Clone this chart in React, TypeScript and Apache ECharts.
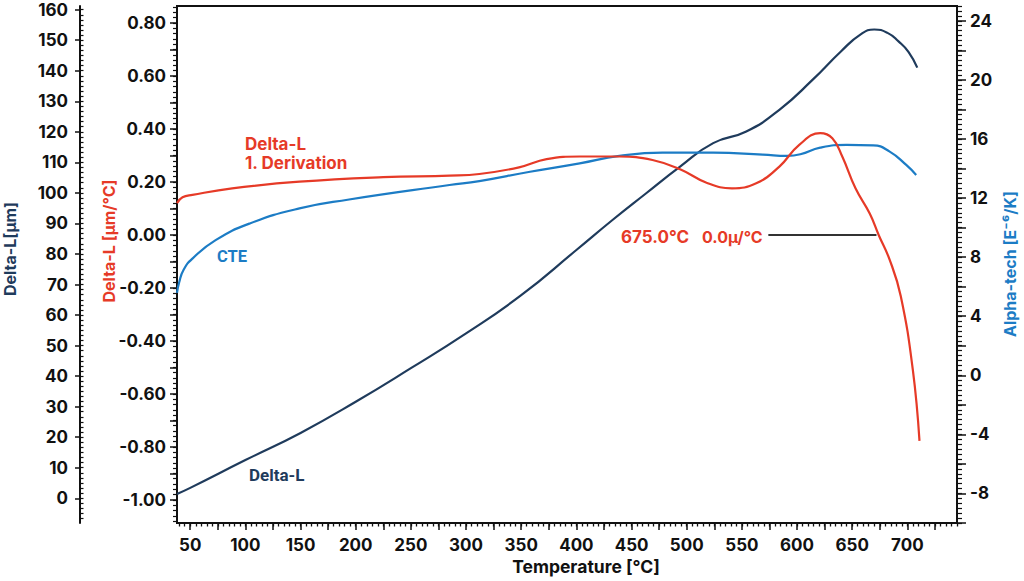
import React, { useEffect, useRef } from "react";
import * as echarts from "echarts";

// ---------- data ----------
// Temperature [°C]
const X_MIN = 38;
const X_MAX = 745;
const tempTickLabels = [50, 100, 150, 200, 250, 300, 350, 400, 450, 500, 550, 600, 650, 700];

// Delta-L [µm]
const deltaLTemp = [38, 50, 100, 150, 200, 250, 300, 350, 400, 433, 463, 494, 524, 554, 584, 614, 640, 658, 670, 682, 692, 701, 709];
const deltaLValues = [1.4, 3.4, 12.5, 21.4, 31.6, 42.6, 54, 66.5, 81.3, 91.2, 99.8, 108.6, 116.3, 120.1, 127.2, 137, 146.4, 152.0, 153.5, 152.4, 149.6, 146.2, 141];

// Delta-L 1. Derivation [µm/°C]
const derivTemp = [38, 43, 52, 88, 149, 225, 285, 312, 348, 373, 403, 439, 469, 494, 518, 541, 563, 584, 602, 621, 632, 641, 653, 666, 674, 684, 694, 705, 711];
const derivValues = [0.12, 0.142, 0.151, 0.176, 0.201, 0.218, 0.224, 0.23, 0.255, 0.286, 0.296, 0.296, 0.283, 0.248, 0.197, 0.176, 0.195, 0.258, 0.34, 0.384, 0.365, 0.296, 0.176, 0.08, 0.0, -0.094, -0.23, -0.51, -0.777];

// CTE Alpha-tech [E-6/K]
const cteTemp = [38, 40, 44, 52, 73, 104, 149, 194, 285, 312, 358, 403, 439, 478, 524, 569, 591, 603, 621, 645, 669, 684, 699, 708];
const cteValues = [5.58, 6.3, 7.15, 7.9, 9.15, 10.28, 11.3, 11.9, 12.88, 13.15, 13.78, 14.35, 14.85, 15.07, 15.07, 14.94, 14.85, 14.96, 15.41, 15.6, 15.57, 15.14, 14.24, 13.56];

// axis tick labels
const deltaLTickLabels = [0, 10, 20, 30, 40, 50, 60, 70, 80, 90, 100, 110, 120, 130, 140, 150, 160];
const derivTickLabels = [-1.0, -0.8, -0.6, -0.4, -0.2, 0.0, 0.2, 0.4, 0.6, 0.8];
const cteTickLabels = [-8, -4, 0, 4, 8, 12, 16, 20, 24];

// annotation readout
const readoutTemp = 675.0;
const readoutDeriv = 0.0;

// ---------- helpers ----------
function steps(start: number, end: number, step: number): number[] {
  const out: number[] = [];
  const n = Math.round((end - start) / step);
  for (let i = 0; i <= n; i++) out.push(Math.round((start + i * step) * 10000) / 10000);
  return out;
}
function pairs(xs: number[], ys: number[]): number[][] {
  return xs.map((x, i) => [x, ys[i]]);
}

const NAVY = "#1f3b5c";
const RED = "#e63a27";
const BLUE = "#1c7cc5";
const INK = "#111111";
const FONT = "Inter, 'Noto Sans', sans-serif";
const ANNO_FONT = "Roboto, 'Noto Sans', sans-serif";

const labelStyle = { color: INK, fontFamily: FONT, fontWeight: 700 as const, fontSize: 17 };

export default function App() {
  const ref = useRef<HTMLDivElement>(null);

  useEffect(() => {
    document.body.style.margin = "0";
    if (!ref.current) return;
    const chart = echarts.init(ref.current, undefined, { renderer: "svg" });

    const DL_MIN = -8.1, DL_MAX = 161.2;
    const DV_MIN = -1.087, DV_MAX = 0.864;
    const CT_MIN = -10, CT_MAX = 25;

    const noSplit = { show: false };

    const option: any = {
      animation: false,
      backgroundColor: "#ffffff",
      grid: {
        left: 177,
        right: 67,
        top: 6,
        bottom: 58,
        show: true,
        borderColor: INK,
        borderWidth: 2,
        containLabel: false,
      },
      xAxis: [
        {
          type: "value",
          min: X_MIN,
          max: X_MAX,
          position: "bottom",
          axisLine: { show: true, onZero: false, lineStyle: { color: INK, width: 2 } },
          axisTick: { show: true, customValues: steps(40, 745, 5), length: 3.5, lineStyle: { color: INK, width: 1.3 } },
          axisLabel: { show: false },
          splitLine: noSplit,
        },
        {
          type: "value",
          min: X_MIN,
          max: X_MAX,
          position: "bottom",
          axisLine: { show: false, onZero: false },
          axisTick: { show: true, customValues: steps(50, 725, 25), length: 7, lineStyle: { color: INK, width: 1.5 } },
          axisLabel: { show: true, customValues: tempTickLabels, margin: 13, ...labelStyle },
          splitLine: noSplit,
        },
      ],
      yAxis: [
        // 0: Delta-L [µm] major
        {
          type: "value",
          min: DL_MIN,
          max: DL_MAX,
          position: "left",
          offset: 97,
          axisLine: { show: true, onZero: false, lineStyle: { color: INK, width: 2 } },
          axisTick: { show: true, customValues: deltaLTickLabels, length: 5, lineStyle: { color: INK, width: 1.5 } },
          axisLabel: { show: true, customValues: deltaLTickLabels, margin: 12, ...labelStyle },
          splitLine: noSplit,
        },
        // 1: Delta-L [µm] minor
        {
          type: "value",
          min: DL_MIN,
          max: DL_MAX,
          position: "left",
          offset: 97,
          axisLine: { show: false, onZero: false },
          axisTick: { show: true, inside: true, customValues: steps(-20 / 3, 160, 10 / 6), length: 3.5, lineStyle: { color: INK, width: 1.2 } },
          axisLabel: { show: false },
          splitLine: noSplit,
        },
        // 2: derivation [µm/°C] major
        {
          type: "value",
          min: DV_MIN,
          max: DV_MAX,
          position: "left",
          offset: 0,
          axisLine: { show: true, onZero: false, lineStyle: { color: INK, width: 2 } },
          axisTick: { show: true, customValues: steps(-1.0, 0.8, 0.1), length: 7, lineStyle: { color: INK, width: 1.5 } },
          axisLabel: {
            show: true,
            customValues: derivTickLabels,
            margin: 11,
            formatter: (v: number) => v.toFixed(2),
            ...labelStyle,
          },
          splitLine: noSplit,
        },
        // 3: derivation minor
        {
          type: "value",
          min: DV_MIN,
          max: DV_MAX,
          position: "left",
          offset: 0,
          axisLine: { show: false, onZero: false },
          axisTick: { show: true, customValues: steps(-1.08, 0.86, 0.02), length: 4, lineStyle: { color: INK, width: 1.2 } },
          axisLabel: { show: false },
          splitLine: noSplit,
        },
        // 4: CTE major
        {
          type: "value",
          min: CT_MIN,
          max: CT_MAX,
          position: "right",
          offset: 0,
          axisLine: { show: true, onZero: false, lineStyle: { color: INK, width: 2 } },
          axisTick: { show: true, customValues: steps(-10, 24, 2), length: 9, lineStyle: { color: INK, width: 1.5 } },
          axisLabel: { show: true, customValues: cteTickLabels, margin: 13, ...labelStyle },
          splitLine: noSplit,
        },
        // 5: CTE minor
        {
          type: "value",
          min: CT_MIN,
          max: CT_MAX,
          position: "right",
          offset: 0,
          axisLine: { show: false, onZero: false },
          axisTick: { show: true, customValues: steps(-10, 25, 1 / 3), length: 5, lineStyle: { color: INK, width: 1.2 } },
          axisLabel: { show: false },
          splitLine: noSplit,
        },
      ],
      series: [
        {
          name: "Delta-L",
          type: "line",
          xAxisIndex: 0,
          yAxisIndex: 0,
          data: pairs(deltaLTemp, deltaLValues),
          showSymbol: false,
          smooth: 0.5,
          lineStyle: { color: NAVY, width: 2.2 },
          z: 3,
        },
        {
          name: "CTE",
          type: "line",
          xAxisIndex: 0,
          yAxisIndex: 4,
          data: pairs(cteTemp, cteValues),
          showSymbol: false,
          smooth: 0.5,
          lineStyle: { color: BLUE, width: 2.2 },
          z: 3,
        },
        {
          name: "Delta-L 1. Derivation",
          type: "line",
          xAxisIndex: 0,
          yAxisIndex: 2,
          data: pairs(derivTemp, derivValues),
          showSymbol: false,
          smooth: 0.45,
          lineStyle: { color: RED, width: 2.2 },
          z: 4,
          markLine: {
            silent: true,
            symbol: ["none", "none"],
            label: { show: false },
            lineStyle: { color: "#333333", width: 2, type: "solid" },
            data: [[{ coord: [574, readoutDeriv] }, { coord: [672, readoutDeriv] }]],
          },
        },
      ],
      graphic: [
        {
          type: "text",
          x: 10,
          y: 249,
          rotation: Math.PI / 2,
          style: { text: "Delta-L[µm]", fill: NAVY, fontFamily: FONT, fontWeight: 700, fontSize: 16, textAlign: "center", textVerticalAlign: "middle" },
        },
        {
          type: "text",
          x: 109,
          y: 241,
          rotation: Math.PI / 2,
          style: { text: "Delta-L [µm/°C]", fill: RED, fontFamily: FONT, fontWeight: 700, fontSize: 16, textAlign: "center", textVerticalAlign: "middle" },
        },
        {
          type: "text",
          x: 1010,
          y: 264,
          rotation: Math.PI / 2,
          style: { text: "Alpha-tech [E⁻⁶/K]", fill: BLUE, fontFamily: FONT, fontWeight: 700, fontSize: 16, textAlign: "center", textVerticalAlign: "middle" },
        },
        {
          type: "text",
          x: 586,
          y: 566,
          style: { text: "Temperature [°C]", fill: INK, fontFamily: FONT, fontWeight: 700, fontSize: 17.5, textAlign: "center", textVerticalAlign: "middle" },
        },
        {
          type: "text",
          x: 245,
          y: 144,
          style: { text: "Delta-L", fill: RED, fontFamily: FONT, fontWeight: 700, fontSize: 17, textAlign: "left", textVerticalAlign: "middle" },
        },
        {
          type: "text",
          x: 245,
          y: 163,
          style: { text: "1. Derivation", fill: RED, fontFamily: FONT, fontWeight: 700, fontSize: 17, textAlign: "left", textVerticalAlign: "middle" },
        },
        {
          type: "text",
          x: 217,
          y: 256,
          style: { text: "CTE", fill: BLUE, fontFamily: ANNO_FONT, fontWeight: 700, fontSize: 16.5, textAlign: "left", textVerticalAlign: "middle" },
        },
        {
          type: "text",
          x: 249,
          y: 474.5,
          style: { text: "Delta-L", fill: NAVY, fontFamily: ANNO_FONT, fontWeight: 700, fontSize: 17, textAlign: "left", textVerticalAlign: "middle" },
        },
        {
          type: "text",
          x: 621,
          y: 237,
          style: { text: readoutTemp.toFixed(1) + "°C", fill: RED, fontFamily: FONT, fontWeight: 700, fontSize: 17, textAlign: "left", textVerticalAlign: "middle" },
        },
        {
          type: "text",
          x: 702,
          y: 237,
          style: { text: readoutDeriv.toFixed(1) + "µ/°C", fill: RED, fontFamily: FONT, fontWeight: 700, fontSize: 16, textAlign: "left", textVerticalAlign: "middle" },
        },
      ],
    };

    chart.setOption(option);
    return () => {
      chart.dispose();
    };
  }, []);

  return <div ref={ref} style={{ width: 1024, height: 581 }} />;
}
